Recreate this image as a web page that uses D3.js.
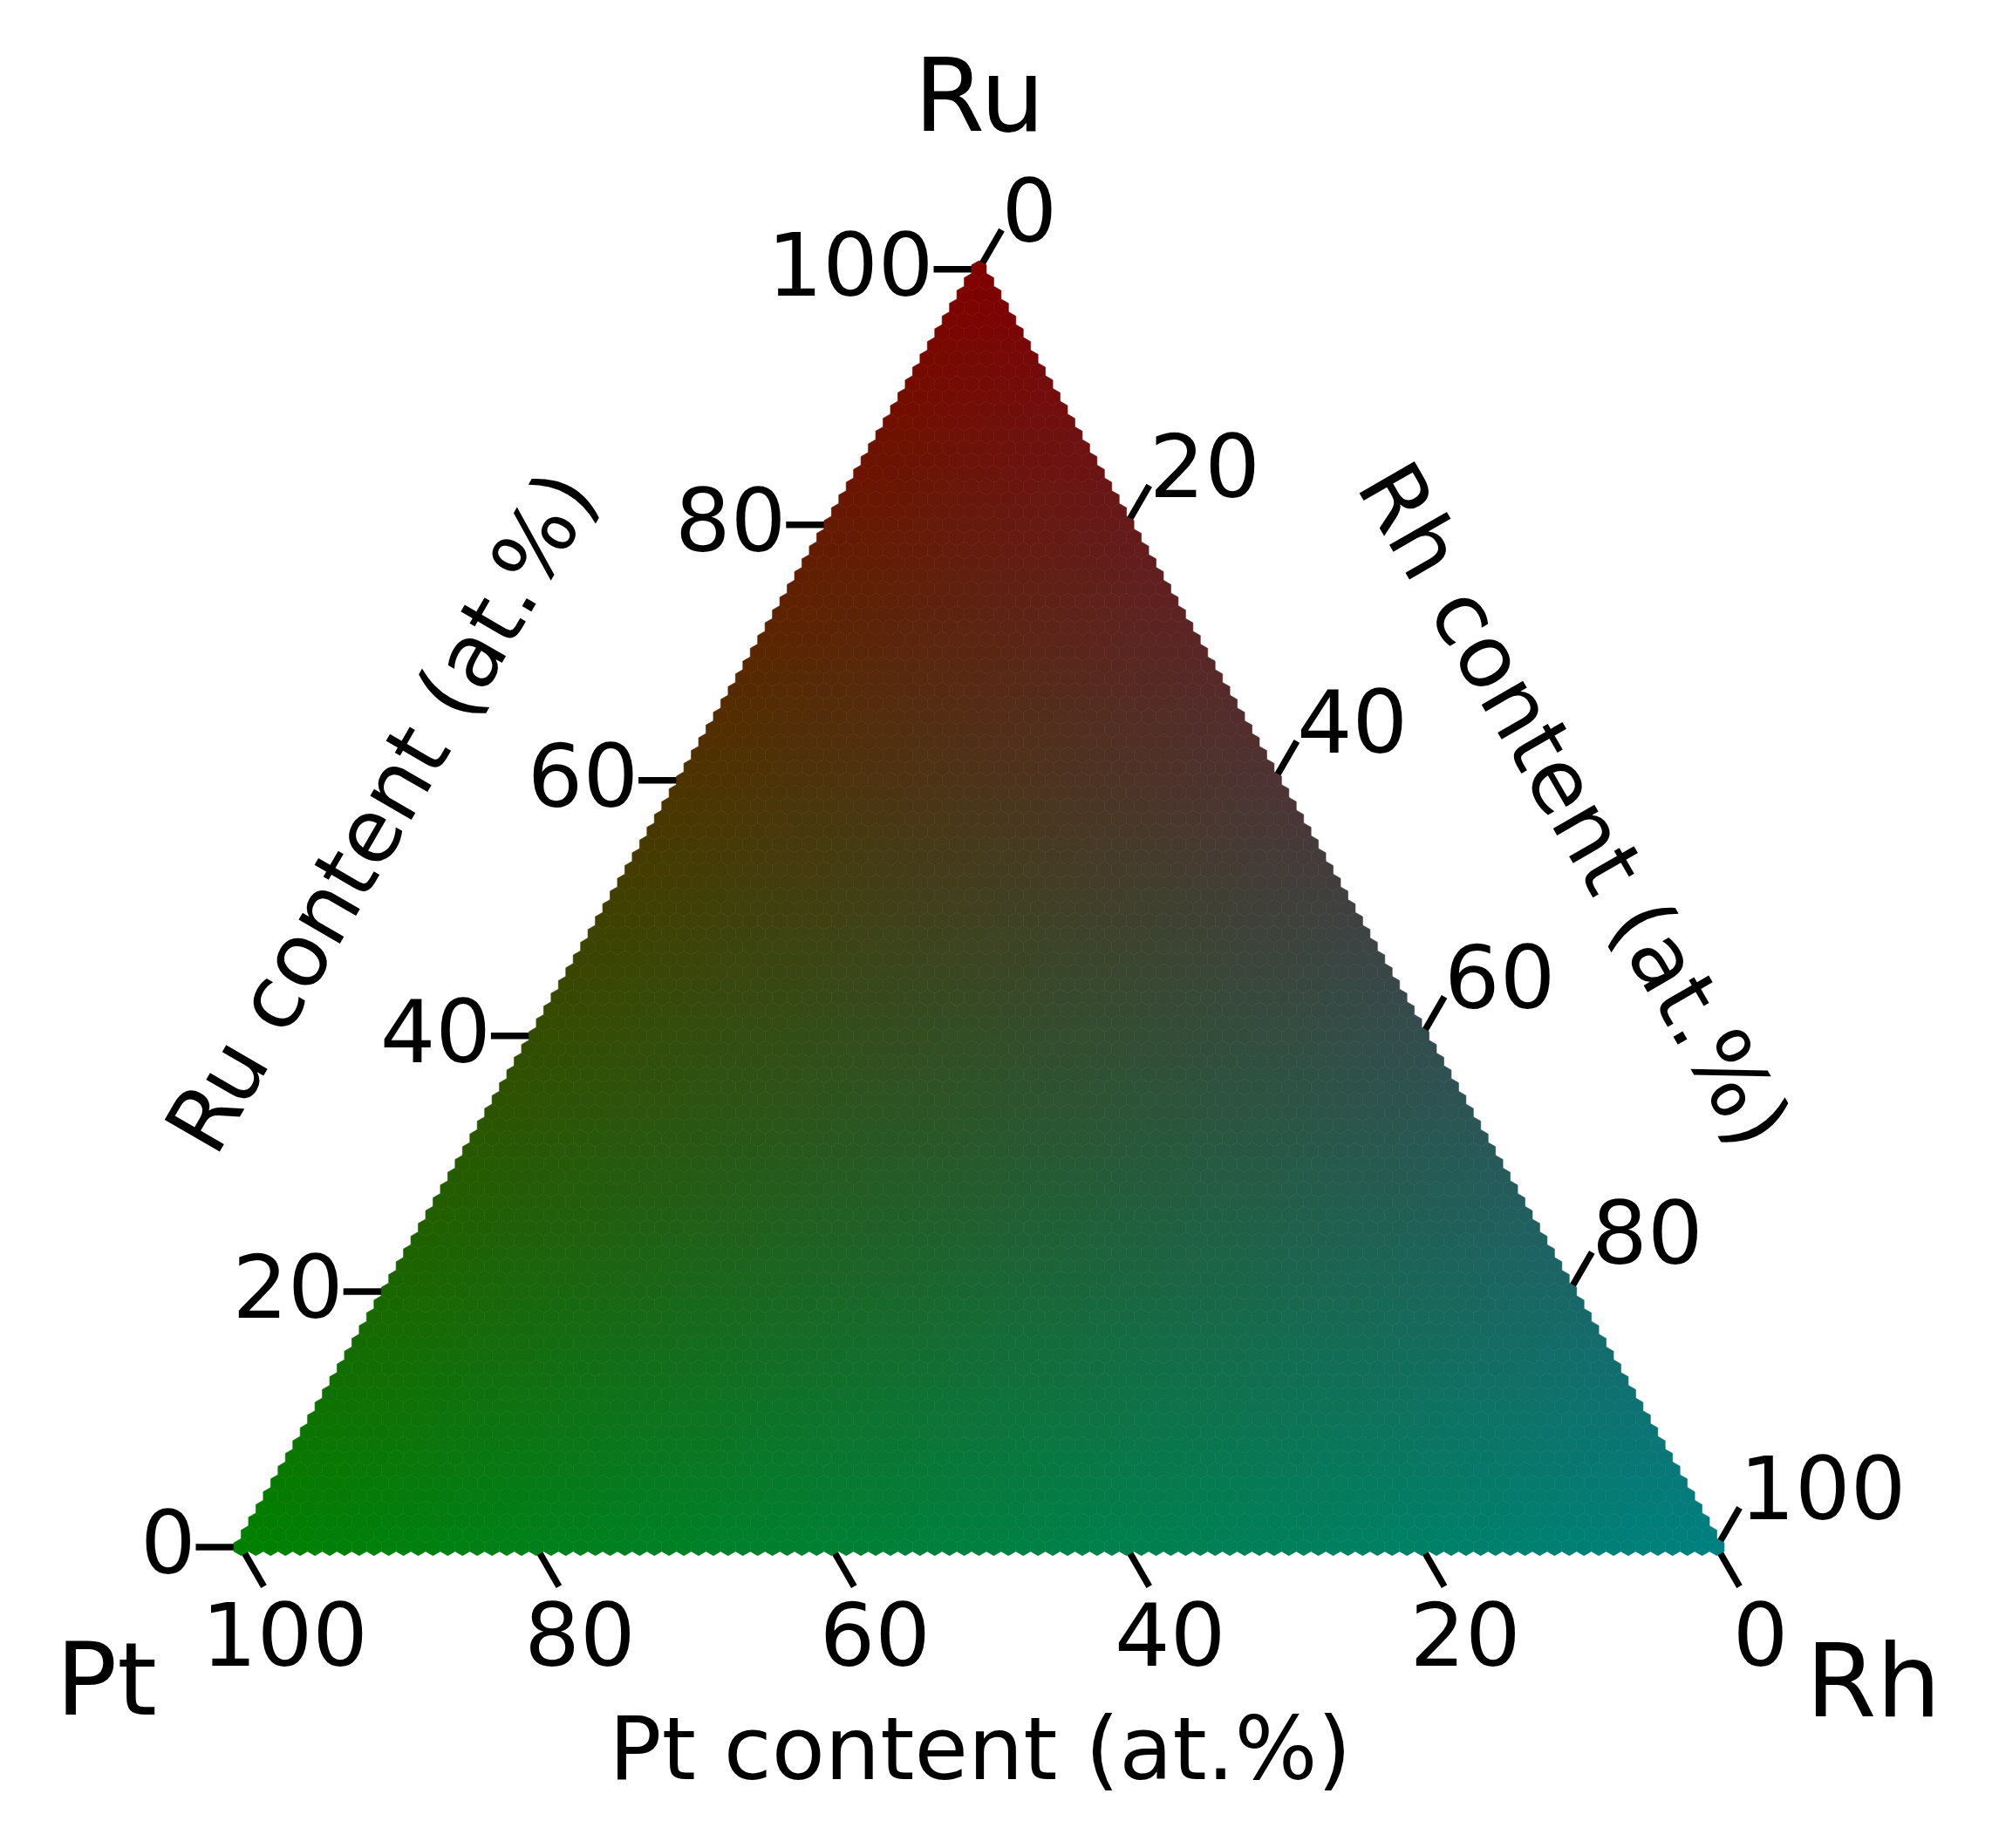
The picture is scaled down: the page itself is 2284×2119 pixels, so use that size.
<!DOCTYPE html>
<html>
<head>
<meta charset="utf-8">
<script src="https://cdn.jsdelivr.net/npm/d3@7"></script>
<style>
  html, body { margin: 0; padding: 0; background: #ffffff; }
  svg { display: block; }
  text { font-family: "DejaVu Sans", sans-serif; fill: #000; }
</style>
</head>
<body>
<svg id="chart" width="2284" height="2119"></svg>
<script>
// ---------- data ----------
const components = ["Pt", "Rh", "Ru"];            // bottom-left, bottom-right, top
const cornerColors = [[0, 128, 0], [0, 128, 128], [128, 0, 0]]; // Pt, Rh, Ru pure colours
const gridScale = 100;                             // composition step count (at.%)
const tickValues = [0, 20, 40, 60, 80, 100];
const tickLabels = ["0", "20", "40", "60", "80", "100"];
const axisTitles = ["Pt content (at.%)", "Rh content (at.%)", "Ru content (at.%)"];

// ---------- layout ----------
const W = 2284, H = 2119;
const x0 = 276.5, x1 = 1968.5, yBase = 1774;
const side = x1 - x0;
const triH = side * Math.sqrt(3) / 2;
const d = side / gridScale;          // lattice spacing
const R = d / Math.sqrt(3);          // hexagon circumradius

const sx = d3.scaleLinear().domain([0, gridScale]).range([x0, x1]);
const sy = d3.scaleLinear().domain([0, gridScale]).range([yBase, yBase - triH]);

// barycentric (Pt, Rh, Ru) -> screen
function project(pt, rh, ru) { return [sx(rh + ru / 2), sy(ru)]; }

const svg = d3.select("#chart");
svg.append("rect").attr("width", W).attr("height", H).attr("fill", "#fff");

// ---------- ticks (under the cells) ----------
const tickLen = 52;
const gTicks = svg.append("g").attr("stroke", "#000").attr("stroke-width", 7.5).attr("fill", "none");
const gLabels = svg.append("g").attr("font-size", 100);

tickValues.forEach((v, i) => {
  // bottom axis: Pt content, 100 at left
  let p = project(v, gridScale - v, 0);
  let e = [p[0] + tickLen * 0.5, p[1] + tickLen * Math.sqrt(3) / 2];
  gTicks.append("line").attr("x1", p[0]).attr("y1", p[1]).attr("x2", e[0]).attr("y2", e[1]);
  gLabels.append("text").attr("x", p[0] + 50).attr("y", p[1] + 136)
    .attr("text-anchor", "middle").text(tickLabels[i]);

  // left axis: Ru content, 0 at bottom
  p = project(gridScale - v, 0, v);
  e = [p[0] - tickLen, p[1]];
  gTicks.append("line").attr("x1", p[0]).attr("y1", p[1]).attr("x2", e[0]).attr("y2", e[1]);
  gLabels.append("text").attr("x", e[0]).attr("y", p[1] + 30)
    .attr("text-anchor", "end").text(tickLabels[i]);

  // right axis: Rh content, 0 at top
  p = project(0, v, gridScale - v);
  e = [p[0] + tickLen * 0.5, p[1] - tickLen * Math.sqrt(3) / 2];
  gTicks.append("line").attr("x1", p[0]).attr("y1", p[1]).attr("x2", e[0]).attr("y2", e[1]);
  gLabels.append("text").attr("x", e[0]).attr("y", e[1] + 13)
    .attr("text-anchor", "start").text(tickLabels[i]);
});

// ---------- hexagonal composition map ----------
const cells = [];
for (let ru = 0; ru <= gridScale; ru++) {
  for (let rh = 0; rh <= gridScale - ru; rh++) {
    cells.push({ pt: gridScale - ru - rh, rh: rh, ru: ru });
  }
}
function cellColor(c) {
  const f = [c.pt / gridScale, c.rh / gridScale, c.ru / gridScale];
  const rgb = [0, 1, 2].map(ch => f[0] * cornerColors[0][ch] + f[1] * cornerColors[1][ch] + f[2] * cornerColors[2][ch]);
  return d3.rgb(rgb[0], rgb[1], rgb[2]).formatHex();
}
function hexPath(c) {
  const [cx, cy] = project(c.pt, c.rh, c.ru);
  const pts = d3.range(6).map(k => {
    const a = -Math.PI / 2 + k * Math.PI / 3;
    return [cx + R * Math.cos(a), cy + R * Math.sin(a)];
  });
  return "M" + pts.map(p => p[0].toFixed(2) + "," + p[1].toFixed(2)).join("L") + "Z";
}
svg.append("g").selectAll("path").data(cells).join("path")
  .attr("d", hexPath)
  .attr("fill", cellColor)
  .attr("stroke", cellColor)
  .attr("stroke-width", 0.6);

// ---------- axis titles ----------
svg.append("text").attr("x", 1124).attr("y", 2040).attr("font-size", 100)
  .attr("text-anchor", "middle").text(axisTitles[0]);
svg.append("text").attr("transform", "translate(1775,940) rotate(60)").attr("font-size", 100)
  .attr("text-anchor", "middle").text(axisTitles[1]);
svg.append("text").attr("transform", "translate(467,948) rotate(-60)").attr("font-size", 100)
  .attr("text-anchor", "middle").text(axisTitles[2]);

// ---------- corner labels ----------
const cornerPos = [[122, 1966], [2148, 1968], [1123, 150]];
components.forEach((name, i) => {
  svg.append("text").attr("x", cornerPos[i][0]).attr("y", cornerPos[i][1])
    .attr("font-size", 116.67).attr("text-anchor", "middle").text(name);
});
</script>
</body>
</html>
